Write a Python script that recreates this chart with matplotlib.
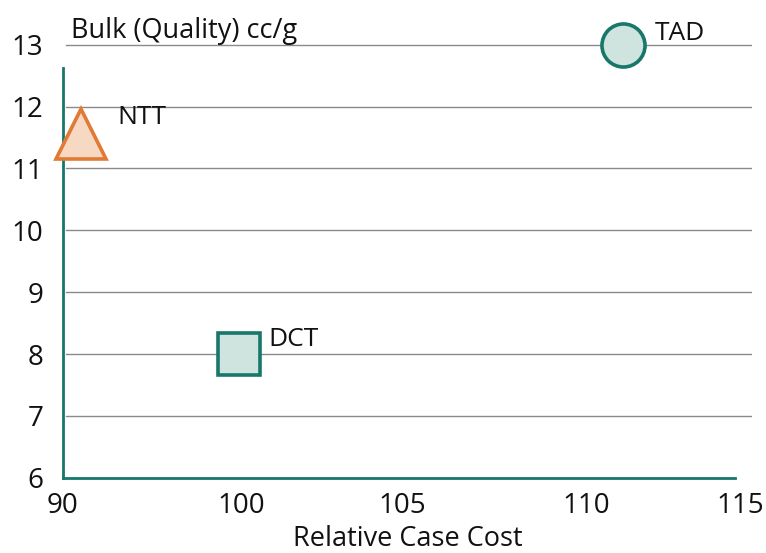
import matplotlib
matplotlib.use("Agg")
import matplotlib.pyplot as plt

plt.rcParams['font.family'] = ['Open Sans', 'DejaVu Sans']

# Data
names = ["NTT", "DCT", "TAD"]
cost = [95.55, 100.2, 111.5]
bulk = [11.55, 8.0, 13.0]
markers = ["^", "s", "o"]
edge_colors = ["#e07a35", "#17776b", "#17776b"]
face_colors = ["#f7d9c3", "#cfe3df", "#cfe3df"]
sizes = [36, 30, 31]

x_tick_pos = [95, 100.25, 105, 110.4, 114.95]
x_tick_labels = ["90", "100", "105", "110", "115"]
y_ticks = [6, 7, 8, 9, 10, 11, 12, 13]

teal = "#17776b"
txt = "#111111"

fig = plt.figure(figsize=(7.66, 5.53), dpi=100)
ax = fig.add_axes([0.082, 0.136, 0.90, 0.8166])

ax.set_xlim(95, 115.3)
ax.set_ylim(6, 13.3)

for yv in y_ticks[1:]:
    ax.axhline(yv, xmin=0.004, xmax=1.0, color="#8a8a8a", lw=1.0, zorder=1)

for n, xv, yv, m, ec, fc, s in zip(names, cost, bulk, markers, edge_colors, face_colors, sizes):
    ax.plot(xv, yv, marker=m, ms=s, mec=ec, mfc=fc, mew=2.6, ls="none", zorder=3, clip_on=False)

offsets = {"NTT": (1.07, 0.27), "DCT": (0.84, 0.23), "TAD": (0.94, 0.19)}
for n, xv, yv in zip(names, cost, bulk):
    dx, dy = offsets[n]
    ax.text(xv + dx, yv + dy, n, fontsize=19, color=txt, va="center", ha="left", zorder=4)

for s in ["top", "right"]:
    ax.spines[s].set_visible(False)
ax.spines["left"].set_color(teal)
ax.spines["left"].set_linewidth(2.0)
ax.spines["left"].set_bounds(6, 12.63)
ax.spines["bottom"].set_color(teal)
ax.spines["bottom"].set_linewidth(2.0)
ax.spines["bottom"].set_bounds(95, 114.8)

ax.set_xticks(x_tick_pos)
ax.set_xticklabels(x_tick_labels)
ax.set_yticks(y_ticks)
ax.tick_params(length=0, labelsize=20, colors=txt)
ax.tick_params(axis="x", pad=10)
ax.tick_params(axis="y", pad=14)

ax.set_xlabel("Relative Case Cost", fontsize=19.5, color=txt, labelpad=4)
ax.text(0.012, 0.99, "Bulk (Quality) cc/g", transform=ax.transAxes, fontsize=19.5,
        color=txt, ha="left", va="center")

fig.savefig("out.png", dpi=100)
